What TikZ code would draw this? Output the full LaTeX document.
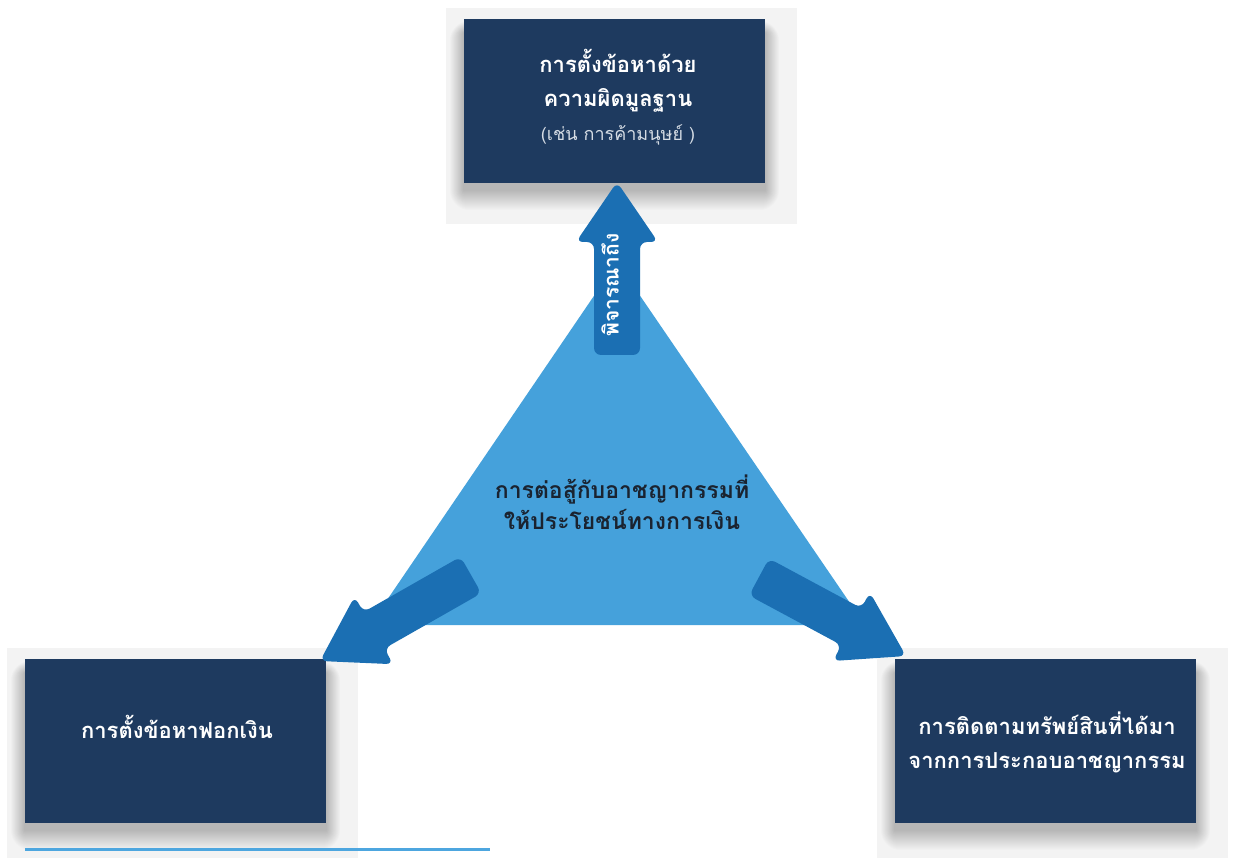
\documentclass[tikz,border=0pt]{standalone}
\usepackage{fontspec}
\newfontfamily\thai[Script=Thai]{Loma}
\usetikzlibrary{calc}
\definecolor{boxblue}{HTML}{1E3A5F}
\definecolor{triblue}{HTML}{45A1DB}
\definecolor{arrblue}{HTML}{1B6FB3}
\definecolor{panelgray}{HTML}{F3F3F3}
\definecolor{linblue}{HTML}{4DA6DF}
\definecolor{subgray}{HTML}{D5DCE4}
\definecolor{darktext}{HTML}{1A2330}
\pgfdeclarelayer{panellayer}
\pgfdeclarelayer{shadowlayer}
\pgfsetlayers{panellayer,shadowlayer,main}
\newcommand\fatarrow[5]{%
  \coordinate (#1-h) at ($(#2)!#5!(#1)$);
  \fill[arrblue, rounded corners=7pt]
    ($(#1)!#3!90:(#2)$) -- ($(#1-h)!#3!90:(#2)$) -- ($(#1-h)!#4!90:(#2)$)
    -- (#2)
    -- ($(#1-h)!#4!-90:(#2)$) -- ($(#1-h)!#3!-90:(#2)$) -- ($(#1)!#3!-90:(#2)$) -- cycle;}
\newcommand\softshadow[1]{%
  \begin{pgfonlayer}{shadowlayer}
  \foreach \i in {1,...,20}{%
    \fill[black, opacity=0.013, rounded corners=\i pt]
      ($(#1.north west)+(-0.7*\i,14-0.6*\i)$) rectangle ($(#1.south east)+(0.7*\i,7+\i)$);}
  \end{pgfonlayer}}
\begin{document}
\begin{tikzpicture}[x=1pt,y=-1pt,
  panelbox/.style={fill=panelgray, draw=none, inner sep=0pt, minimum width=351pt, minimum height=#1},
  darkbox/.style={fill=boxblue, minimum width=301pt, minimum height=164pt, inner sep=0pt},
  boxtext/.style={text=white, font=\thai\bfseries\fontsize{22}{34}\selectfont, align=center, inner sep=0pt},
  centertext/.style={text=darktext, font=\thai\bfseries\fontsize{23}{31}\selectfont, align=center, inner sep=0pt},
  arrowtext/.style={text=white, font=\thai\bfseries\fontsize{21}{21}\selectfont, inner sep=0pt, rotate=90},
]
\useasboundingbox (0,0) rectangle (1235,858);
% panels
\begin{pgfonlayer}{panellayer}
\node[panelbox=216pt] (ptop) at (621.5,116) {};
\node[panelbox=210pt] (pleft) at (182.5,753) {};
\node[panelbox=210pt] (pright) at (1052.5,753) {};
\end{pgfonlayer}
% boxes
\node[darkbox] (btop) at (614.5,101) {};
\node[darkbox] (bleft) at (175.5,741) {};
\node[darkbox] (bright) at (1045.5,741) {};
\softshadow{btop}
\softshadow{bleft}
\softshadow{bright}
% triangle
\fill[triblue, rounded corners=24pt] (617,262) -- (370,625) -- (865,625) -- cycle;
% arrows
\coordinate (upT) at (617,355);
\coordinate (upP) at (617,182);
\coordinate (lfT) at (471,575);
\coordinate (lfP) at (320,661);
\coordinate (rtT) at (759,577);
\coordinate (rtP) at (906,656);
\fatarrow{upT}{upP}{23pt}{41pt}{60pt}
\fatarrow{lfT}{lfP}{21pt}{39pt}{62pt}
\fatarrow{rtT}{rtP}{21pt}{39pt}{62pt}
% texts
\node[boxtext] (ttop) at (618,97) {การตั้งข้อหาด้วย\\ความผิดมูลฐาน\\[0pt]{\mdseries\color{subgray}\fontsize{18}{28}\selectfont(เช่น การค้ามนุษย์ )}};
\node[boxtext] (tleft) at (177,727) {การตั้งข้อหาฟอกเงิน};
\node[boxtext] (tright) at (1047,742) {การติดตามทรัพย์สินที่ได้มา\\จากการประกอบอาชญากรรม};
\node[centertext] (tctr) at (622,502) {การต่อสู้กับอาชญากรรมที่\\ให้ประโยชน์ทางการเงิน};
\node[arrowtext] (tup) at (610,285) {พิจารณาถึง};
% bottom line
\coordinate (lA) at (25,849);
\coordinate (lB) at (490,849);
\draw[linblue, line width=3pt] (lA) -- (lB);
\end{tikzpicture}
\end{document}
